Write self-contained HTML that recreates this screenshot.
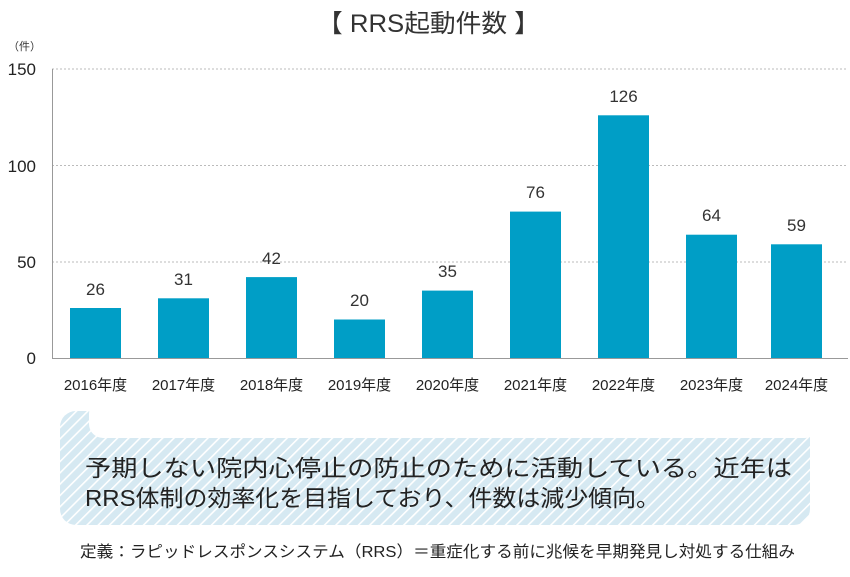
<!DOCTYPE html>
<html><head><meta charset="utf-8"><style>
body{margin:0;background:#fff;width:850px;height:572px;overflow:hidden;font-family:"Liberation Sans","Noto Sans CJK JP",sans-serif;}
</style></head><body>
<svg width="850" height="572" xmlns="http://www.w3.org/2000/svg" font-family="Liberation Sans, Noto Sans CJK JP, sans-serif">
<defs>
<pattern id="st" width="8" height="8" patternUnits="userSpaceOnUse" patternTransform="rotate(45)">
<rect width="8" height="8" fill="#d6e9f2"/><rect x="0" width="1.6" height="8" fill="#fff"/>
</pattern>
</defs>
<text x="317" y="32" font-size="25" fill="#333" textLength="223" lengthAdjust="spacingAndGlyphs">【 RRS起動件数 】</text>
<text x="8" y="50" font-size="11" fill="#333">（件）</text>
<g stroke="#bbb" stroke-dasharray="2,2" stroke-width="1">
<line x1="52" y1="69" x2="848" y2="69"/><line x1="52" y1="165.5" x2="848" y2="165.5"/><line x1="52" y1="262" x2="848" y2="262"/>
</g>
<line x1="52.5" y1="69" x2="52.5" y2="358" stroke="#999"/>
<line x1="52" y1="358.5" x2="848" y2="358.5" stroke="#999"/>
<g font-size="17" fill="#222" text-anchor="end">
<text x="36" y="75">150</text><text x="36" y="172">100</text><text x="36" y="268">50</text><text x="36" y="364">0</text>
</g>
<g fill="#009ec6">
<rect x="70" y="308" width="51" height="50"/>
<rect x="158" y="298.3" width="51" height="59.7"/>
<rect x="246" y="277.1" width="51" height="80.9"/>
<rect x="334" y="319.5" width="51" height="38.5"/>
<rect x="422" y="290.6" width="51" height="67.4"/>
<rect x="510" y="211.6" width="51" height="146.4"/>
<rect x="598" y="115.3" width="51" height="242.7"/>
<rect x="686" y="234.7" width="51" height="123.3"/>
<rect x="771" y="244.3" width="51" height="113.7"/>
</g>
<g font-size="17" fill="#333" text-anchor="middle">
<text x="95.5" y="295">26</text><text x="183.5" y="285">31</text><text x="271.5" y="264">42</text><text x="359.5" y="306">20</text><text x="447.5" y="277">35</text><text x="535.5" y="198">76</text><text x="623.5" y="102">126</text><text x="711.5" y="221">64</text><text x="796.5" y="231">59</text>
</g>
<g font-size="15" fill="#222" text-anchor="middle">
<text x="95.5" y="390">2016年度</text><text x="183.5" y="390">2017年度</text><text x="271.5" y="390">2018年度</text><text x="359.5" y="390">2019年度</text><text x="447.5" y="390">2020年度</text><text x="535.5" y="390">2021年度</text><text x="623.5" y="390">2022年度</text><text x="711.5" y="390">2023年度</text><text x="796.5" y="390">2024年度</text>
</g>
<rect x="60" y="411" width="750" height="114" rx="16" fill="url(#st)"/>
<rect x="89" y="400" width="730" height="38" rx="14" fill="#fff"/>
<rect x="100" y="400" width="720" height="20" fill="#fff"/>
<g font-size="23" fill="#222">
<text x="85" y="476" textLength="707" lengthAdjust="spacingAndGlyphs">予期しない院内心停止の防止のために活動している。近年は</text>
<text x="85" y="506" textLength="575" lengthAdjust="spacingAndGlyphs">RRS体制の効率化を目指しており、件数は減少傾向。</text>
</g>
<text x="80" y="557" font-size="16" fill="#222" textLength="715" lengthAdjust="spacingAndGlyphs">定義：ラピッドレスポンスシステム（RRS）＝重症化する前に兆候を早期発見し対処する仕組み</text>
</svg>
</body></html>
